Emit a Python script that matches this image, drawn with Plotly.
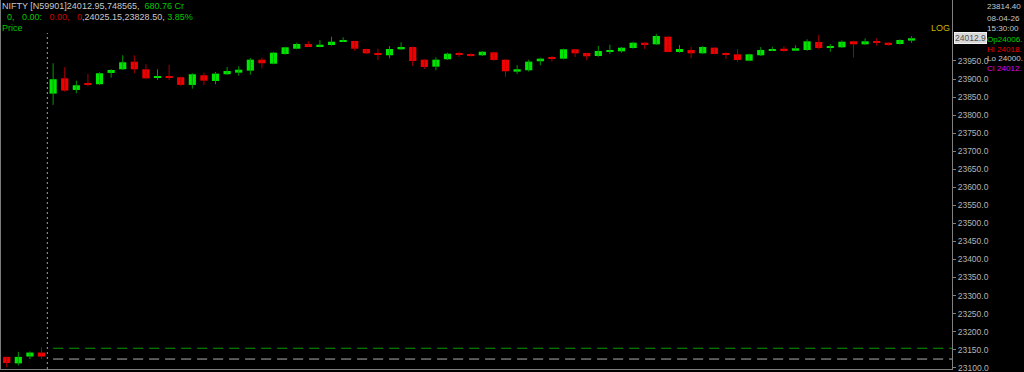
import plotly.graph_objects as go
import pandas as pd

# ---------------- data ----------------
prev_times = ["07-04 15:10", "07-04 15:15", "07-04 15:20", "07-04 15:25"]
day_times = [t.strftime("08-04 %H:%M") for t in
             pd.date_range("2026-04-08 09:15", periods=75, freq="5min")]
times = prev_times + day_times

open_ = [23130.0, 23112.0, 23131.0, 23142.0,
         23859.5, 23902.0, 23869.7, 23886.3, 23885.5, 23916.8, 23927.0, 23948.0, 23927.0, 23903.8,
         23907.6, 23904.9, 23883.6, 23910.4, 23894.6, 23913.2, 23917.6, 23923.2, 23953.6, 23942.5,
         23969.4, 23984.0, 23997.0, 23991.5, 23994.3, 24003.4, 24005.4, 23983.2, 23972.1, 23965.8,
         23982.4, 23988.7, 23953.6, 23934.2, 23954.7, 23970.2, 23968.5, 23965.8, 23974.0, 23953.6,
         23920.4, 23924.3, 23949.2, 23958.3, 23956.4, 23982.4, 23972.1, 23963.8, 23974.9, 23976.8,
         23986.0, 24000.6, 23996.2, 24017.3, 23974.9, 23980.4, 23971.3, 23986.8, 23971.3, 23968.5,
         23950.8, 23965.8, 23979.6, 23984.0, 23978.5, 23980.4, 24002.6, 23986.0, 23987.9, 24004.5,
         23996.2, 24004.5, 24000.6, 23997.0, 24006.5]
high = [23130.5, 23144.0, 23145.0, 23156.0,
        23943.6, 23932.6, 23895.5, 23914.0, 23918.7, 23927.0, 23965.8, 23965.8, 23940.9, 23927.0,
        23939.0, 23906.5, 23916.0, 23917.6, 23919.6, 23933.4, 23935.3, 23958.3, 23959.0, 23975.0,
        23989.6, 24000.6, 24004.5, 24008.1, 24017.3, 24015.6, 24006.0, 23984.0, 23984.0, 23991.5,
        24001.7, 23989.6, 23954.7, 23960.2, 23973.0, 23975.7, 23971.3, 23977.7, 23975.7, 23954.7,
        23938.9, 23953.6, 23959.1, 23963.8, 23984.0, 23983.2, 23973.0, 23991.5, 23995.1, 23988.7,
        24003.4, 24001.7, 24025.15, 24018.4, 23994.3, 23989.6, 23991.5, 23988.0, 23974.0, 23983.2,
        23970.2, 23988.7, 23989.6, 23991.5, 23993.5, 24010.1, 24022.0, 23997.0, 24007.3, 24006.2,
        24012.8, 24012.8, 24001.7, 24010.1, 24018.5]
low = [23101.0, 23106.0, 23124.0, 23124.0,
       23828.5, 23865.0, 23860.6, 23880.8, 23883.6, 23903.8, 23925.0, 23916.0, 23899.4, 23897.4,
       23897.4, 23881.6, 23873.3, 23882.7, 23885.5, 23911.3, 23909.3, 23912.0, 23929.8, 23940.9,
       23967.4, 23982.4, 23989.6, 23988.0, 23992.3, 24002.6, 23978.5, 23969.4, 23952.8, 23957.5,
       23980.4, 23936.2, 23927.9, 23924.3, 23952.8, 23961.0, 23961.9, 23963.9, 23950.8, 23906.5,
       23914.0, 23920.4, 23938.1, 23948.1, 23954.7, 23961.0, 23951.9, 23961.9, 23969.4, 23973.0,
       23984.0, 23983.2, 23994.3, 23974.0, 23973.0, 23957.5, 23969.4, 23968.5, 23955.5, 23948.1,
       23949.2, 23963.8, 23977.7, 23975.7, 23977.7, 23978.5, 23983.2, 23975.7, 23986.0, 23960.2,
       23994.3, 23992.3, 23992.3, 23995.1, 24000.5]
close = [23113.0, 23130.0, 23142.0, 23131.0,
         23899.4, 23868.0, 23882.7, 23883.6, 23916.0, 23925.0, 23946.4, 23927.0, 23902.0, 23905.7,
         23903.8, 23883.6, 23913.2, 23895.5, 23914.9, 23922.3, 23925.9, 23953.6, 23943.6, 23973.0,
         23987.9, 23997.0, 23991.5, 23995.1, 24003.4, 24005.4, 23984.0, 23971.3, 23966.6, 23983.2,
         23988.7, 23950.0, 23933.4, 23953.6, 23970.2, 23967.4, 23964.7, 23975.7, 23952.8, 23921.5,
         23927.0, 23948.1, 23956.4, 23955.5, 23982.4, 23971.3, 23963.0, 23977.7, 23980.4, 23986.8,
         24000.6, 23995.1, 24019.2, 23974.9, 23983.2, 23971.3, 23988.7, 23969.4, 23967.4, 23952.8,
         23968.5, 23980.4, 23983.2, 23980.4, 23985.2, 24004.5, 23986.0, 23989.6, 24003.4, 23996.2,
         24004.5, 24000.6, 23996.2, 24008.1, 24012.95]

prev_close_level = 23124.0
upper_level = 23154.0
tick_vals = [23100, 23150, 23200, 23250, 23300, 23350, 23400, 23450, 23500, 23550,
             23600, 23650, 23700, 23750, 23800, 23850, 23900, 23950]

# ---------------- styling ----------------
UP_BODY, UP_WICK = "#00e600", "#009a00"
DN_BODY, DN_WICK = "#f00000", "#a80000"
FONT = "Liberation Sans"
AXIS_FONT = dict(family=FONT, size=8.5, color="#b4b4b4")
W, H = 1024, 372
ML, MR, MT, MB = 0, 72, 0, 3
PW, PH = W - ML - MR, H - MT - MB


def px_x(px):
    return (px - ML) / PW


def px_y(py):
    return 1 - (py - MT) / PH


up_x, up_y, dn_x, dn_y = [], [], [], []
for t, o, h, l, c in zip(times, open_, high, low, close):
    if c >= o:
        up_x += [t, t, None]; up_y += [l, h, None]
    else:
        dn_x += [t, t, None]; dn_y += [l, h, None]

body_base = [min(o, c) for o, c in zip(open_, close)]
body_h = [max(abs(c - o), 2.0) for o, c in zip(open_, close)]
body_col = [UP_BODY if c >= o else DN_BODY for o, c in zip(open_, close)]

fig = go.Figure()
fig.add_trace(go.Scatter(x=up_x, y=up_y, mode="lines", line=dict(color=UP_WICK, width=1),
                         hoverinfo="skip", showlegend=False))
fig.add_trace(go.Scatter(x=dn_x, y=dn_y, mode="lines", line=dict(color=DN_WICK, width=1),
                         hoverinfo="skip", showlegend=False))
fig.add_trace(go.Bar(x=times, y=body_h, base=body_base, width=0.62,
                     marker=dict(color=body_col, line=dict(width=0)),
                     showlegend=False))

n_prev = len(prev_times)
x_lo, x_hi = -0.58, 81.49

shapes = [
    dict(type="line", xref="x", yref="y", x0=n_prev, x1=x_hi, y0=upper_level, y1=upper_level,
         line=dict(color="#00a000", width=1, dash="10px,6px")),
    dict(type="line", xref="x", yref="y", x0=n_prev, x1=x_hi, y0=prev_close_level, y1=prev_close_level,
         line=dict(color="#b0b0b0", width=1, dash="10px,6px")),
    dict(type="line", xref="x", yref="paper", x0=n_prev - 0.5, x1=n_prev - 0.5, y0=0, y1=px_y(33),
         line=dict(color="#a0a0a0", width=1, dash="2px,3px")),
    dict(type="line", xref="paper", yref="paper", x0=0.0005, x1=0.0005, y0=0, y1=1,
         line=dict(color="#808080", width=1)),
]

GRAY = "#c8c8c8"
GREEN = "#00c800"
RED = "#d00000"
sp = "&nbsp;"
line1 = (f"NIFTY [N59901]{close[-1]:.2f},748565,{sp*2}"
         f"<span style='color:{GREEN}'>680.76{sp}Cr</span>")
line2 = (f"<span style='color:{GREEN}'>{sp*2}0,{sp*3}0.00:</span>"
         f"<span style='color:{RED}'>{sp*3}0.00,{sp*3}0</span>"
         f",{max(high):.2f},{min(low[n_prev:]):.2f},"
         f"<span style='color:{GREEN}'> 3.85%</span>")

ann = []


def add_text(text, px, py, color, size=9, xanchor="left", **kw):
    ann.append(dict(text=text, xref="paper", yref="paper", x=px_x(px), y=px_y(py),
                    xanchor=xanchor, yanchor="middle", showarrow=False,
                    font=dict(family=FONT, size=size, color=color), **kw))


add_text(line1, 0, 5.5, GRAY)
add_text(line2, 0, 17, GRAY)
add_text("Price", 0, 28, GREEN)
add_text("LOG", 952, 28, "#c8b400", xanchor="right")

# right info panel (the reference shows these cut at the window edge)
panel = [("23814.40", GRAY, 7), ("08-04-26", GRAY, 18), ("15:30:00", GRAY, 28.5),
         (f"Op{open_[-1]:.2f}"[:8], "#00d000", 39), (f"Hi {high[-1]:.2f}"[:9], "#e00000", 49.5),
         (f"Lo {low[-1]:.2f}"[:9], GRAY, 59), (f"Cl {close[-1]:.2f}"[:9], "#e000e0", 68.5)]
for txt, col, py in panel:
    add_text(txt, 985, py, col, size=8.1)

# highlighted last price on axis
ann.append(dict(text=f"{close[-1]:.2f}"[:7], xref="paper", yref="y", x=px_x(954), y=close[-1],
                xanchor="left", yanchor="middle", showarrow=False,
                font=dict(family=FONT, size=8.5, color="#505050"),
                bgcolor="#d8d8d8", bordercolor="#f0f0f0", borderwidth=1, borderpad=0))

# lowest tick label sits at the very bottom edge, drawn as text so it is not dropped
tick_text = [f"{v:.1f}" for v in tick_vals]
ann.append(dict(text=tick_text[0], xref="paper", yref="y", x=px_x(956), y=tick_vals[0],
                xanchor="left", yanchor="middle", showarrow=False, font=AXIS_FONT))
tick_text[0] = ""

fig.update_layout(
    width=W, height=H,
    margin=dict(l=ML, r=MR, t=MT, b=MB),
    paper_bgcolor="#000000", plot_bgcolor="#000000",
    barmode="overlay", showlegend=False,
    shapes=shapes, annotations=ann,
    xaxis=dict(type="category", categoryorder="array", categoryarray=times,
               range=[x_lo, x_hi], showgrid=False, zeroline=False,
               showticklabels=False, ticks="", showline=True, linecolor="#808080", linewidth=1,
               fixedrange=True),
    yaxis=dict(side="right", range=[23096.4, 24119.0], tickvals=tick_vals, ticktext=tick_text,
               showgrid=False, zeroline=False, showline=True, linecolor="#808080", linewidth=1,
               ticks="outside", ticklen=3, tickcolor="#808080",
               tickfont=AXIS_FONT, fixedrange=True),
)

fig.write_html("out.html")
